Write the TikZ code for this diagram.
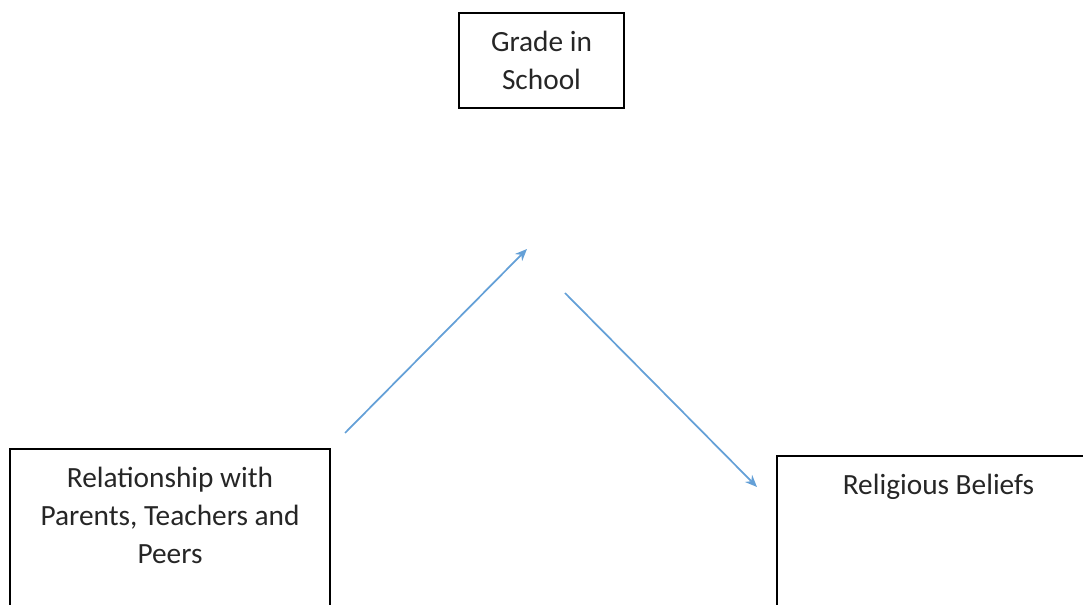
\documentclass[tikz,border=0pt]{standalone}
\usepackage{fontspec}
\setmainfont{Carlito}
\usetikzlibrary{arrows.meta}
\definecolor{linkblue}{RGB}{100,160,215}

\begin{document}
\begin{tikzpicture}[
  x=0.75pt, y=-0.75pt,
  box/.style={rectangle, draw=black, line width=0.9pt, inner sep=0pt},
  caption/.style={align=center, font=\fontsize{22}{28.5}\selectfont, text=black!85, inner sep=0pt},
  link/.style={-{Stealth[length=9pt, width=7.5pt]}, draw=linkblue, line width=1.3pt}
]
\useasboundingbox (0,0) rectangle (1083,605);
\clip (0,0) rectangle (1083,605);

% Boxes
\node[box, caption, minimum width=123.75pt, minimum height=71.25pt] (grade) at (541.5, 60.5) {Grade in\\School};
\node[box, minimum width=240pt, minimum height=158.25pt] (relation) at (170, 554.5) {};
\node[box, minimum width=242.25pt, minimum height=153pt] (belief) at (938.5, 558) {};

% Box texts
\node[caption, anchor=north] (relationtext) at ([yshift=-13.5pt]relation.north) {Relationship with\\Parents, Teachers and\\Peers};
\node[caption, anchor=north] (belieftext) at ([yshift=-13.5pt]belief.north) {Religious Beliefs};

% Arrow ends
\coordinate (a1) at (345, 433);
\coordinate (a2) at (527, 249);
\coordinate (b1) at (565, 293);
\coordinate (b2) at (757, 487);

% Arrows
\draw[link] (a1) -- (a2);
\draw[link] (b1) -- (b2);

\end{tikzpicture}
\end{document}
